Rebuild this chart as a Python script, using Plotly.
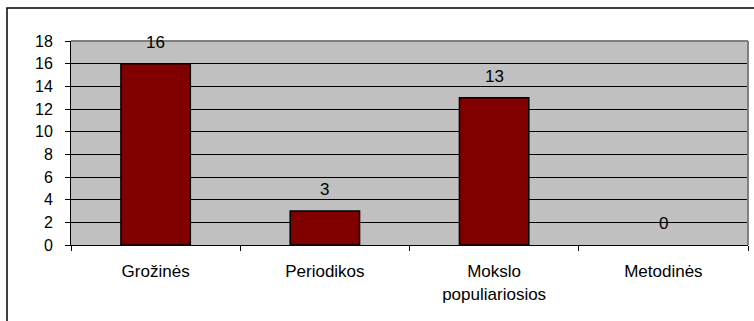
import plotly.graph_objects as go

categories = ["Grožinės", "Periodikos", "Mokslo<br>populiariosios", "Metodinės"]
values = [16, 3, 13, 0]
y_ticks = [0, 2, 4, 6, 8, 10, 12, 14, 16, 18]

FONT = "Liberation Sans, Arial, sans-serif"

fig = go.Figure()
fig.add_trace(go.Bar(
    x=categories, y=values,
    marker=dict(color="#800000",
                line=dict(color="#000000", width=[1.5 if v > 0 else 0 for v in values])),
    width=0.41,
    hoverinfo="skip",
))

for c, v in zip(categories, values):
    fig.add_annotation(x=c, y=v, text=str(v), showarrow=False,
                       yanchor="bottom", yshift=10,
                       font=dict(family=FONT, size=17, color="#000000"))

W, H = 754, 321
L, R, T, B = 71, 6, 41, 76
pw, ph = W - L - R, H - T - B

fig.update_layout(
    width=W, height=H,
    margin=dict(l=L, r=R, t=T, b=B, pad=0),
    paper_bgcolor="#FFFFFF",
    plot_bgcolor="#C0C0C0",
    showlegend=False,
    font=dict(family=FONT, size=17, color="#000000"),
    bargap=0.59,
)
fig.update_xaxes(
    type="category",
    showgrid=False,
    showline=True, linecolor="#000000", linewidth=1,
    ticks="outside", ticklen=5, tickcolor="#000000", tickson="boundaries",
    ticklabelstandoff=11,
    tickfont=dict(family=FONT, size=17, color="#000000"),
    fixedrange=True,
)
fig.update_yaxes(
    range=[0, 18], tickvals=y_ticks,
    showgrid=True, gridcolor="#000000", gridwidth=1,
    zeroline=False,
    showline=True, linecolor="#000000", linewidth=1,
    ticks="outside", ticklen=5, tickcolor="#000000",
    ticklabelstandoff=9,
    tickfont=dict(family=FONT, size=16, color="#000000"),
    fixedrange=True,
)

# plot area top/right border (gray)
fig.add_shape(type="line", xref="paper", yref="paper", x0=0, x1=1, y0=1, y1=1,
              line=dict(color="#808080", width=2))
fig.add_shape(type="line", xref="paper", yref="paper", x0=1, x1=1, y0=0, y1=1,
              line=dict(color="#808080", width=2))

# outer chart border
fig.add_shape(type="rect", xref="paper", yref="paper",
              x0=(7 - L) / pw, x1=(W + 5 - L) / pw,
              y0=-(H + 5 - (T + ph)) / ph, y1=(T + ph - 8) / ph,
              line=dict(color="#000000", width=1.5), fillcolor="rgba(0,0,0,0)",
              layer="above")

fig.write_html("out.html", config={"displayModeBar": False},
               post_script="document.body.style.margin='0px';")
